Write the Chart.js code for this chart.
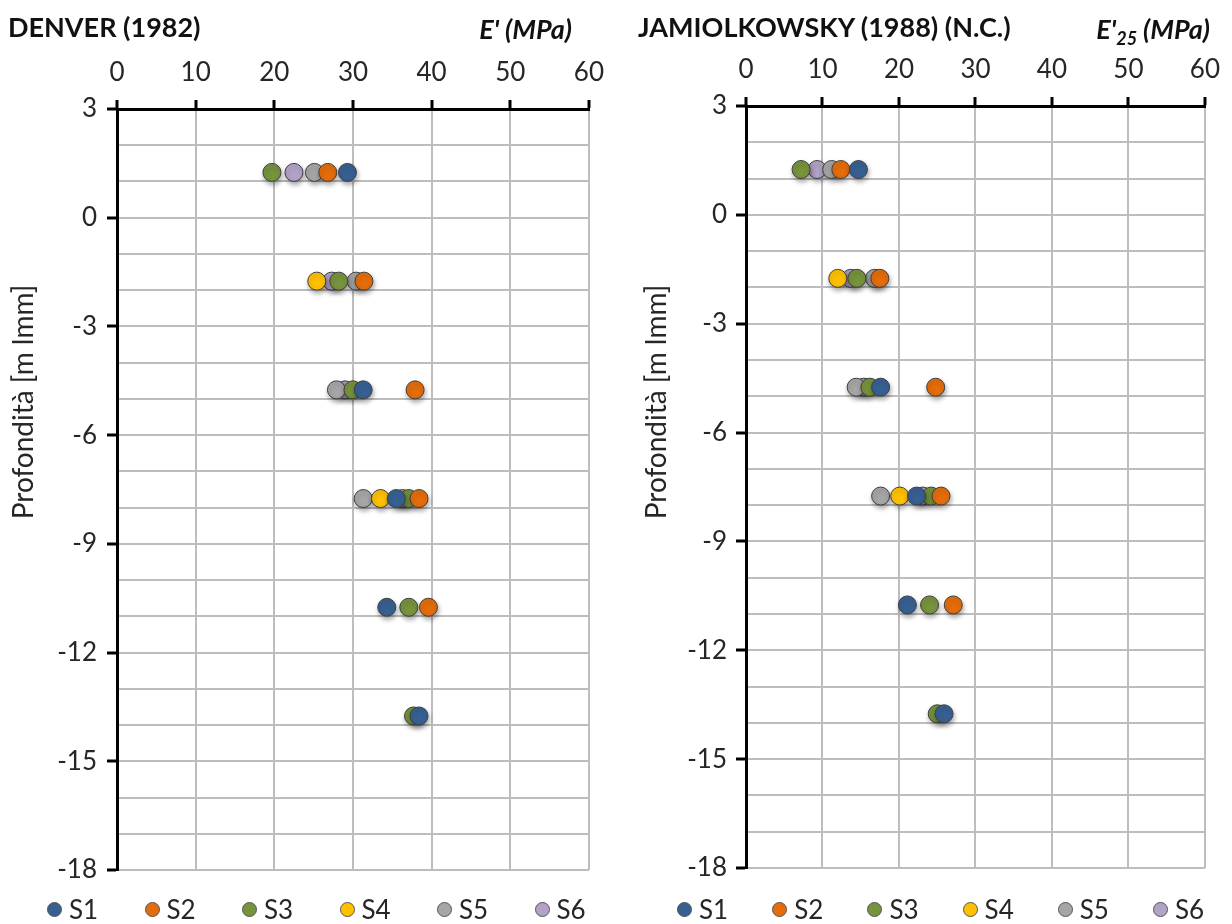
<!DOCTYPE html>
<html>
<head>
<meta charset="utf-8">
<script src="https://cdn.jsdelivr.net/npm/chart.js@4.4.1/dist/chart.umd.min.js"></script>
<style>
  html, body { margin: 0; padding: 0; background: #fff; }
  body { width: 1232px; height: 924px; position: relative; overflow: hidden; font-family: Lato, "Open Sans", sans-serif; }
  .panel { position: absolute; top: 0; width: 616px; height: 924px; }
  .panel canvas { position: absolute; left: 0; top: 0; }
  .head { position: absolute; top: 11px; font-weight: 700; font-size: 27px; line-height: 32px; color: #111; white-space: nowrap; }
  .unit { position: absolute; top: 13px; font-weight: 700; font-style: italic; font-size: 27px; line-height: 32px; color: #111; white-space: nowrap; }
  .unit sub { font-size: 18px; vertical-align: -6px; line-height: 0; }
  .ytitle { position: absolute; width: 400px; height: 34px; line-height: 34px; text-align: center;
            font-size: 28px; color: #262626; white-space: nowrap; transform: rotate(-90deg); transform-origin: 50% 50%; }
  .legend { position: absolute; top: 893px; display: flex; }
  .legend .item { display: flex; align-items: center; font-size: 26px; line-height: 32px; color: #262626; }
  .legend .dot { width: 15px; height: 15px; border-radius: 50%; border: 1px solid #555; margin-right: 7px; box-sizing: border-box; }
</style>
</head>
<body>
<div class="panel" id="p1" style="left:0">
  <canvas id="c1" width="616" height="924"></canvas>
  <div class="head" style="left:8px">DENVER (1982)</div>
  <div class="unit" style="right:44px">E' (MPa)</div>
  <div class="ytitle" style="left:-178px; top:385px">Profondità [m lmm]</div>
  <div class="legend" id="lg1" style="left:47px"></div>
</div>
<div class="panel" id="p2" style="left:616px">
  <canvas id="c2" width="616" height="924"></canvas>
  <div class="head" style="left:22px">JAMIOLKOWSKY (1988) (N.C.)</div>
  <div class="unit" style="right:22px">E'<sub>25</sub> (MPa)</div>
  <div class="ytitle" style="left:-161px; top:385px">Profondità [m lmm]</div>
  <div class="legend" id="lg2" style="left:61px"></div>
</div>
<script>
// Sampling depths (m l.m.m.)
const depths = [1.25, -1.75, -4.75, -7.75, -10.75, -13.75];

// Series names and colours
const seriesNames = ['S1', 'S2', 'S3', 'S4', 'S5', 'S6'];
const seriesColors = ['#376092', '#E46C0A', '#77933C', '#FFC000', '#A6A6A6', '#B3A2C7'];

// Axis ticks
const eTicks = [0, 10, 20, 30, 40, 50, 60];
const depthTicks = [3, 0, -3, -6, -9, -12, -15, -18];

// Denver (1982): E' (MPa) per series, one value per depth (null = no sample)
const denverS1 = [29.3, null, 31.3, 35.5, 34.3, 38.4];
const denverS2 = [26.8, 31.4, 37.9, 38.4, 39.6, null];
const denverS3 = [19.7, 28.2, 30.0, 37.1, 37.1, 37.7];
const denverS4 = [null, 25.4, null, 33.5, null, null];
const denverS5 = [25.1, 30.4, 27.9, 31.3, null, null];
const denverS6 = [22.5, 27.3, 29.0, 36.3, null, null];

// Jamiolkowsky (1988) N.C.: E'25 (MPa)
const jamS1 = [14.7, null, 17.6, 22.3, 21.1, 25.9];
const jamS2 = [12.4, 17.5, 24.8, 25.5, 27.1, null];
const jamS3 = [7.2, 14.5, 16.2, 24.2, 24.0, 25.0];
const jamS4 = [null, 12.0, null, 20.1, null, null];
const jamS5 = [11.2, 16.8, 14.4, 17.6, null, null];
const jamS6 = [9.3, 13.7, 15.4, 23.1, null, null];

const FONT = 'Lato, "Open Sans", sans-serif';

function buildDatasets(series) {
  return series.map((vals, i) => ({
    label: seriesNames[i],
    data: vals.map((v, k) => v === null ? null : { x: v, y: depths[k] }).filter(p => p !== null),
    backgroundColor: seriesColors[i],
    borderColor: '#3f3f3f',
    borderWidth: 1,
    pointRadius: 9,
    pointHoverRadius: 9,
    showLine: false
  }));
}

// Soft drop shadow under the markers
const markerShadow = {
  id: 'markerShadow',
  beforeDatasetsDraw(chart) {
    const ctx = chart.ctx;
    ctx.save();
    ctx.shadowColor = 'rgba(0,0,0,0.35)';
    ctx.shadowBlur = 5;
    ctx.shadowOffsetX = 1;
    ctx.shadowOffsetY = 3;
  },
  afterDatasetsDraw(chart) {
    chart.ctx.restore();
  }
};

function makeChart(canvasId, series, geo) {
  return new Chart(document.getElementById(canvasId), {
    type: 'scatter',
    data: { datasets: buildDatasets(series) },
    plugins: [markerShadow],
    options: {
      responsive: false,
      animation: false,
      devicePixelRatio: 1,
      layout: { padding: { left: 0, right: geo.right, top: 0, bottom: geo.bottom } },
      plugins: { legend: { display: false }, tooltip: { enabled: false } },
      scales: {
        x: {
          type: 'linear',
          position: 'top',
          min: eTicks[0],
          max: eTicks[eTicks.length - 1],
          afterBuildTicks: s => { s.ticks = eTicks.map(v => ({ value: v })); },
          afterFit: s => { s.height = geo.top; },
          ticks: { font: { family: FONT, size: 26 }, color: '#262626', padding: 12, maxRotation: 0 },
          grid: { color: '#BDBDBD', lineWidth: 2, tickLength: 9, tickColor: '#000', tickWidth: 3 },
          border: { color: '#000', width: 3 }
        },
        y: {
          type: 'linear',
          min: depthTicks[depthTicks.length - 1],
          max: depthTicks[0],
          ticks: {
            stepSize: 1,
            autoSkip: false,
            font: { family: FONT, size: 26 },
            color: '#262626',
            padding: geo.yPad,
            callback: v => depthTicks.includes(v) ? String(v) : ''
          },
          afterFit: s => { s.width = geo.left; },
          grid: {
            color: '#BDBDBD',
            lineWidth: 2,
            tickLength: 10,
            tickWidth: 3,
            tickColor: c => (c.tick && depthTicks.includes(c.tick.value)) ? '#000' : 'rgba(0,0,0,0)'
          },
          border: { color: '#000', width: 3 }
        }
      }
    }
  });
}

makeChart('c1', [denverS1, denverS2, denverS3, denverS4, denverS5, denverS6],
  { left: 117, right: 27, top: 109, bottom: 54, yPad: 10 });
makeChart('c2', [jamS1, jamS2, jamS3, jamS4, jamS5, jamS6],
  { left: 130, right: 23, top: 106, bottom: 56, yPad: 9 });

// Legends built from the series names and colours
function buildLegend(id, itemWidth) {
  const el = document.getElementById(id);
  seriesNames.forEach((name, i) => {
    const item = document.createElement('div');
    item.className = 'item';
    item.style.width = itemWidth + 'px';
    const dot = document.createElement('span');
    dot.className = 'dot';
    dot.style.background = seriesColors[i];
    const txt = document.createElement('span');
    txt.textContent = name;
    item.appendChild(dot);
    item.appendChild(txt);
    el.appendChild(item);
  });
}
buildLegend('lg1', 97.5);
buildLegend('lg2', 95.2);
</script>
</body>
</html>
